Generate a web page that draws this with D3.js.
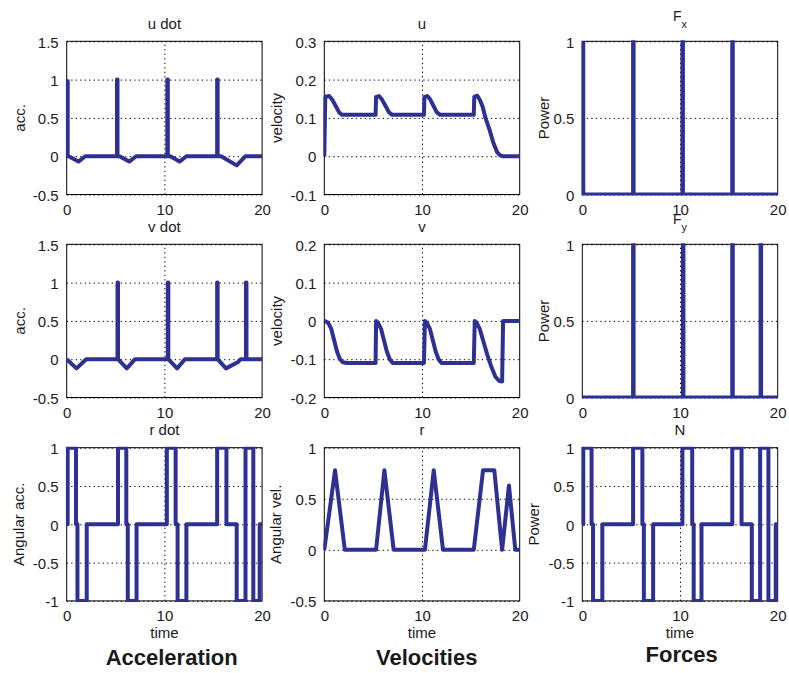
<!DOCTYPE html>
<html>
<head>
<meta charset="utf-8">
<script src="https://cdnjs.cloudflare.com/ajax/libs/d3/7.8.5/d3.min.js"></script>
<style>
  body { margin: 0; background: #fff; }
  text { font-family: "Liberation Sans", Arial, Helvetica, sans-serif; fill: #1a1a1a; }
</style>
</head>
<body>
<div id="chart"></div>
<script>
// ---- data: [time, value] ----
const timeTicks = [0, 10, 20];

const uDot = [[0.1,1],[0.1,0],[0.2,0],[1.2,-0.07],[1.9,0],[5.15,0],[5.15,1],[5.2,1],[5.2,0],[5.4,0],[6.4,-0.07],[7.1,0],
  [10.3,0],[10.3,1],[10.35,1],[10.35,0],[10.6,0],[11.55,-0.07],[12.25,0],[15.4,0],[15.4,1],[15.45,1],[15.45,0],
  [15.8,0],[17.4,-0.12],[18.3,0],[20,0]];

const vDot = [[0,0],[1.0,-0.12],[2.0,0],[5.2,0],[5.2,1],[5.25,1],[5.25,0],[6.15,-0.12],[7.0,0],[10.35,0],[10.35,1],
  [10.4,1],[10.4,0],[11.3,-0.12],[12.1,0],[15.4,0],[15.4,1],[15.45,1],[15.45,0],[16.3,-0.12],[17.5,-0.04],[17.8,0],
  [18.35,0],[18.35,1],[18.4,1],[18.4,0],[20,0]];

const rDot = [[0,0],[0.1,0],[0.1,1],[0.95,1],[0.95,0],[1.1,0],[1.1,-1],[2.05,-1],[2.05,0],[5.25,0],[5.25,1],[6.1,1],
  [6.1,0],[6.25,0],[6.25,-1],[7.15,-1],[7.15,0],[10.25,0],[10.25,1],[11.15,1],[11.15,0],[11.35,0],[11.35,-1],
  [12.25,-1],[12.25,0],[15.4,0],[15.4,1],[16.35,1],[16.35,0],[17.4,0],[17.4,-1],[18.3,-1],[18.3,1],[19.1,1],
  [19.1,-1],[19.75,-1],[19.75,0],[20,0]];

const uVel = [[0,0],[0.1,0.155],[0.5,0.157],[0.8,0.148],[1.2,0.13],[1.5,0.115],[1.8,0.108],[5.25,0.108],[5.3,0.155],
  [5.6,0.157],[5.9,0.148],[6.3,0.13],[6.6,0.115],[6.95,0.108],[10.2,0.108],[10.25,0.155],[10.55,0.157],[10.85,0.148],
  [11.2,0.13],[11.5,0.115],[11.85,0.108],[15.3,0.108],[15.35,0.155],[15.65,0.158],[15.9,0.148],[16.2,0.13],
  [16.5,0.1],[16.9,0.07],[17.3,0.035],[17.7,0.01],[18.0,0.002],[18.3,0],[20,0]];

const vVel = [[0,0],[0.4,-0.005],[0.7,-0.02],[1.0,-0.05],[1.3,-0.08],[1.6,-0.1],[1.9,-0.108],[2.3,-0.11],[5.25,-0.11],
  [5.3,0],[5.5,-0.005],[5.8,-0.02],[6.1,-0.05],[6.4,-0.08],[6.7,-0.1],[7.0,-0.11],[10.2,-0.11],[10.3,0],[10.5,-0.005],
  [10.8,-0.02],[11.1,-0.05],[11.4,-0.08],[11.7,-0.1],[12.0,-0.11],[15.3,-0.11],[15.4,0],[15.6,-0.005],[15.9,-0.02],
  [16.3,-0.055],[16.7,-0.09],[17.1,-0.12],[17.5,-0.145],[17.9,-0.157],[18.2,-0.158],[18.3,0],[20,0]];

const rVel = [[0,0],[1.1,0.78],[2.1,0],[5.3,0],[6.15,0.78],[7.1,0],[10.3,0],[11.2,0.78],[12.15,0],[15.3,0],
  [16.25,0.78],[17.4,0.78],[18.2,0],[18.9,0.63],[19.55,0],[20,0]];

const forceX = [[0.1,1],[0.1,0],[5.2,0],[5.2,1],[5.25,1],[5.25,0],[10.25,0],[10.25,1],[10.3,1],[10.3,0],
  [15.35,0],[15.35,1],[15.4,1],[15.4,0],[20,0]];

const forceY = [[0,0],[5.2,0],[5.2,1],[5.25,1],[5.25,0],[10.3,0],[10.3,1],[10.35,1],[10.35,0],[15.35,0],[15.35,1],
  [15.4,1],[15.4,0],[18.25,0],[18.25,1],[18.3,1],[18.3,0],[20,0]];

const forceN = [[0,0],[0.1,0],[0.1,1],[0.95,1],[0.95,0],[1.1,0],[1.1,-1],[2.05,-1],[2.05,0],[5.2,0],[5.2,1],[6.15,1],
  [6.15,0],[6.3,0],[6.3,-1],[7.25,-1],[7.25,0],[10.25,0],[10.25,1],[11.25,1],[11.25,0],[11.4,0],[11.4,-1],[12.2,-1],
  [12.2,0],[15.35,0],[15.35,1],[16.3,1],[16.3,0],[17.35,0],[17.35,-1],[18.2,-1],[18.2,1],[19.05,1],[19.05,-1],
  [19.8,-1],[19.8,0],[20,0]];

const accTicks = [-0.5, 0, 0.5, 1, 1.5];
const uTicks = [-0.1, 0, 0.1, 0.2, 0.3];
const vTicks = [-0.2, -0.1, 0, 0.1, 0.2];
const rTicks = [-0.5, 0, 0.5, 1];
const unitTicks = [-1, -0.5, 0, 0.5, 1];
const powerTicks = [0, 0.5, 1];

const columnNames = ["Acceleration", "Velocities", "Forces"];

// ---- panels (row by row) ----
const panels = [
  {row: 0, col: 0, title: "u dot", yLabel: "acc.", domain: [-0.5, 1.5], ticks: accTicks, values: uDot, gap: 42},
  {row: 0, col: 1, title: "u", yLabel: "velocity", domain: [-0.1, 0.3], ticks: uTicks, values: uVel, gap: 42},
  {row: 0, col: 2, title: "F", sub: "x", yLabel: "Power", domain: [0, 1], ticks: powerTicks, values: forceX, gap: 33},
  {row: 1, col: 0, title: "v dot", yLabel: "acc.", domain: [-0.5, 1.5], ticks: accTicks, values: vDot, gap: 42},
  {row: 1, col: 1, title: "v", yLabel: "velocity", domain: [-0.2, 0.2], ticks: vTicks, values: vVel, gap: 42},
  {row: 1, col: 2, title: "F", sub: "y", yLabel: "Power", domain: [0, 1], ticks: powerTicks, values: forceY, gap: 33},
  {row: 2, col: 0, title: "r dot", yLabel: "Angular acc.", domain: [-1, 1], ticks: unitTicks, values: rDot, gap: 43},
  {row: 2, col: 1, title: "r", yLabel: "Angular vel.", domain: [-0.5, 1], ticks: rTicks, values: rVel, gap: 43},
  {row: 2, col: 2, title: "N", yLabel: "Power", domain: [-1, 1], ticks: unitTicks, values: forceN, gap: 43}
];

const width = 789, height = 673;
const colLeft = [66.7, 324.3, 582.3];
const rowTop = [41.3, 244.3, 447.7];
const plotW = 195.4, plotH = 153.2;
const lineColor = "#2e3192";

const svg = d3.select("#chart")
  .append("svg")
  .attr("width", width)
  .attr("height", height);

const x = d3.scaleLinear().domain([0, 20]).range([0, plotW]);

panels.forEach((p, i) => {
  const y = d3.scaleLinear().domain(p.domain).range([plotH, 0]);
  const g = svg.append("g")
    .attr("transform", `translate(${colLeft[p.col]},${rowTop[p.row]})`);

  // clip the trace to the axes box (a hair wider so edge traces keep some weight)
  g.append("clipPath").attr("id", "clip" + i)
    .append("rect").attr("x", -1).attr("y", -1).attr("width", plotW + 2).attr("height", plotH + 2);

  // dotted grid
  g.append("g")
    .call(d3.axisLeft(y).tickValues(p.ticks).tickSize(-plotW).tickFormat(""))
    .call(a => a.select(".domain").remove())
    .selectAll("line")
    .attr("stroke", "#000")
    .attr("stroke-width", 1)
    .attr("stroke-dasharray", "1.3,3.2");
  g.append("g")
    .attr("transform", `translate(0,${plotH})`)
    .call(d3.axisBottom(x).tickValues(timeTicks.slice(1, -1)).tickSize(-plotH).tickFormat(""))
    .call(a => a.select(".domain").remove())
    .selectAll("line")
    .attr("stroke", "#000")
    .attr("stroke-width", 1)
    .attr("stroke-dasharray", "1.3,3.2");

  // box
  g.append("rect")
    .attr("width", plotW)
    .attr("height", plotH)
    .attr("fill", "none")
    .attr("stroke", "#000")
    .attr("stroke-width", 1);

  // trace
  const line = d3.line().x(d => x(d[0])).y(d => y(d[1]));
  g.append("path")
    .datum(p.values)
    .attr("clip-path", `url(#clip${i})`)
    .attr("d", line)
    .attr("fill", "none")
    .attr("stroke", lineColor)
    .attr("stroke-width", 4)
    .attr("stroke-linejoin", "round");

  // tick labels
  g.append("g")
    .call(d3.axisLeft(y).tickValues(p.ticks).tickSize(0).tickPadding(8).tickFormat(d => String(d)))
    .call(a => a.select(".domain").remove())
    .selectAll("text")
    .attr("dy", "0.38em")
    .style("font-size", "15px")
    .attr("fill", "#1a1a1a");
  g.append("g")
    .attr("transform", `translate(0,${plotH})`)
    .call(d3.axisBottom(x).tickValues(timeTicks).tickSize(0).tickPadding(9.5).tickFormat(d => String(d)))
    .call(a => a.select(".domain").remove())
    .selectAll("text")
    .style("font-size", "15px")
    .attr("fill", "#1a1a1a");
  g.selectAll("g[font-family]").attr("font-family", null).attr("font-size", null);

  // title
  if (p.sub) {
    const t = g.append("text")
      .attr("x", plotW / 2)
      .attr("y", -20)
      .attr("text-anchor", "middle")
      .style("font-size", "14px")
      .text(p.title);
    t.append("tspan")
      .attr("dy", 7)
      .style("font-size", "11px")
      .text(p.sub);
  } else {
    g.append("text")
      .attr("x", plotW / 2)
      .attr("y", -12.5)
      .attr("text-anchor", "middle")
      .style("font-size", "15px")
      .text(p.title);
  }

  // y label
  g.append("text")
    .attr("transform", `translate(${-p.gap},${plotH / 2}) rotate(-90)`)
    .attr("text-anchor", "middle")
    .style("font-size", "15px")
    .text(p.yLabel);

  // time label on the bottom row
  if (p.row === 2) {
    g.append("text")
      .attr("x", plotW / 2)
      .attr("y", plotH + 37)
      .attr("text-anchor", "middle")
      .style("font-size", "15px")
      .text("time");
  }
});

// column captions
const captionX = [171.7, 426.7, 681.7];
const captionY = [665, 665, 662];
svg.selectAll("text.caption")
  .data(columnNames)
  .enter()
  .append("text")
  .attr("class", "caption")
  .attr("x", (d, i) => captionX[i])
  .attr("y", (d, i) => captionY[i])
  .attr("text-anchor", "middle")
  .style("font-size", "22px")
  .style("font-weight", "bold")
  .text(d => d);
</script>
</body>
</html>
